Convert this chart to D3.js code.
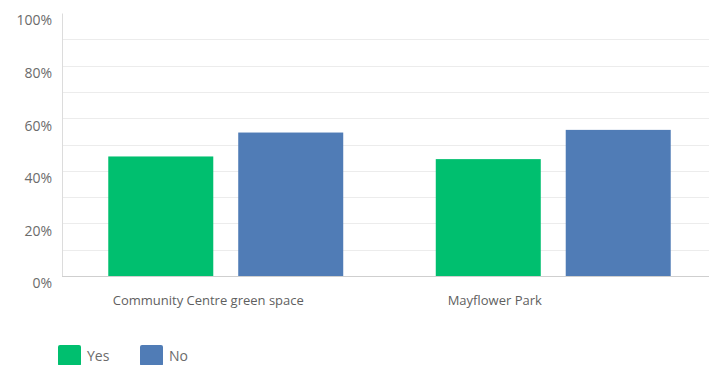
<!DOCTYPE html>
<html>
<head>
<meta charset="utf-8">
<script src="https://cdn.jsdelivr.net/npm/d3@7"></script>
<style>
  html, body { margin: 0; padding: 0; background: #fff; }
  svg { display: block; font-family: "Open Sans", "Noto Sans", sans-serif; }
</style>
</head>
<body>
<svg id="chart" width="709" height="365"></svg>
<script>
// Survey answers per location, share of respondents
const categories = ["Community Centre green space", "Mayflower Park"];
const seriesNames = ["Yes", "No"];
const yesValues = [0.4545, 0.4444];
const noValues = [0.5455, 0.5556];
const yTicks = [0, 0.2, 0.4, 0.6, 0.8, 1.0];
const gridTicks = [0.1, 0.2, 0.3, 0.4, 0.5, 0.6, 0.7, 0.8, 0.9];
const colors = ["#00bf6f", "#507cb6"];

const rows = categories.map((c, i) => ({ category: c, values: [yesValues[i], noValues[i]] }));

const svg = d3.select("#chart");
const W = 709;
const plotLeft = 62, plotTop = 13, plotBottom = 276;

const y = d3.scaleLinear().domain([0, 1]).range([plotBottom, plotTop]);
const x0 = d3.scaleBand().domain(categories).range([plotLeft, plotLeft + 655]);
const x1 = d3.scaleBand().domain(seriesNames).range([0, x0.bandwidth()])
  .paddingInner(0.192).paddingOuter(0.356);
// category captions sit on their own band layout
const xLabel = d3.scaleBand().domain(categories).range([65, 638]);

// horizontal gridlines
svg.append("g").selectAll("line").data(gridTicks).join("line")
  .attr("x1", plotLeft).attr("x2", W)
  .attr("y1", d => Math.round(y(d)) + 0.5).attr("y2", d => Math.round(y(d)) + 0.5)
  .attr("stroke", "#ececec").attr("stroke-width", 1);

// y axis
const yAxis = d3.axisLeft(y).tickValues(yTicks).tickFormat(d3.format(".0%")).tickSize(0).tickPadding(10);
const gy = svg.append("g").attr("transform", `translate(${plotLeft},0)`).call(yAxis);
gy.select(".domain").attr("stroke", "#dcdcdc");
gy.selectAll("text").attr("font-size", 14).attr("fill", "#6b6b6b")
  .attr("dy", "0.85em").attr("font-family", "Open Sans, sans-serif");

// bars
const groups = svg.append("g").selectAll("g").data(rows).join("g")
  .attr("transform", d => `translate(${x0(d.category)},0)`);
groups.selectAll("rect").data(d => d.values.map((v, k) => ({ key: seriesNames[k], v, k })))
  .join("rect")
  .attr("x", d => x1(d.key))
  .attr("width", x1.bandwidth())
  .attr("y", d => y(d.v))
  .attr("height", d => y(0) - y(d.v))
  .attr("fill", d => colors[d.k]);

// baseline
svg.append("line").attr("x1", plotLeft).attr("x2", W)
  .attr("y1", plotBottom + 0.5).attr("y2", plotBottom + 0.5)
  .attr("stroke", "#cfcfcf").attr("stroke-width", 1);

// x axis captions
const xAxis = d3.axisBottom(xLabel).tickSize(0).tickPadding(20);
const gx = svg.append("g").attr("transform", `translate(0,${plotBottom})`).call(xAxis);
gx.select(".domain").remove();
gx.selectAll("text").attr("font-size", 13).attr("fill", "#5f5f5f")
  .attr("font-family", "Open Sans, sans-serif");

// legend
const legend = svg.append("g").selectAll("g").data(seriesNames).join("g")
  .attr("transform", (d, i) => `translate(${58 + i * 82},345)`);
legend.append("rect").attr("width", 23).attr("height", 21).attr("rx", 2)
  .attr("fill", (d, i) => colors[i]);
legend.append("text").attr("x", 29).attr("y", 16)
  .attr("font-size", 14).attr("fill", "#6b6b6b").text(d => d);
</script>
</body>
</html>
